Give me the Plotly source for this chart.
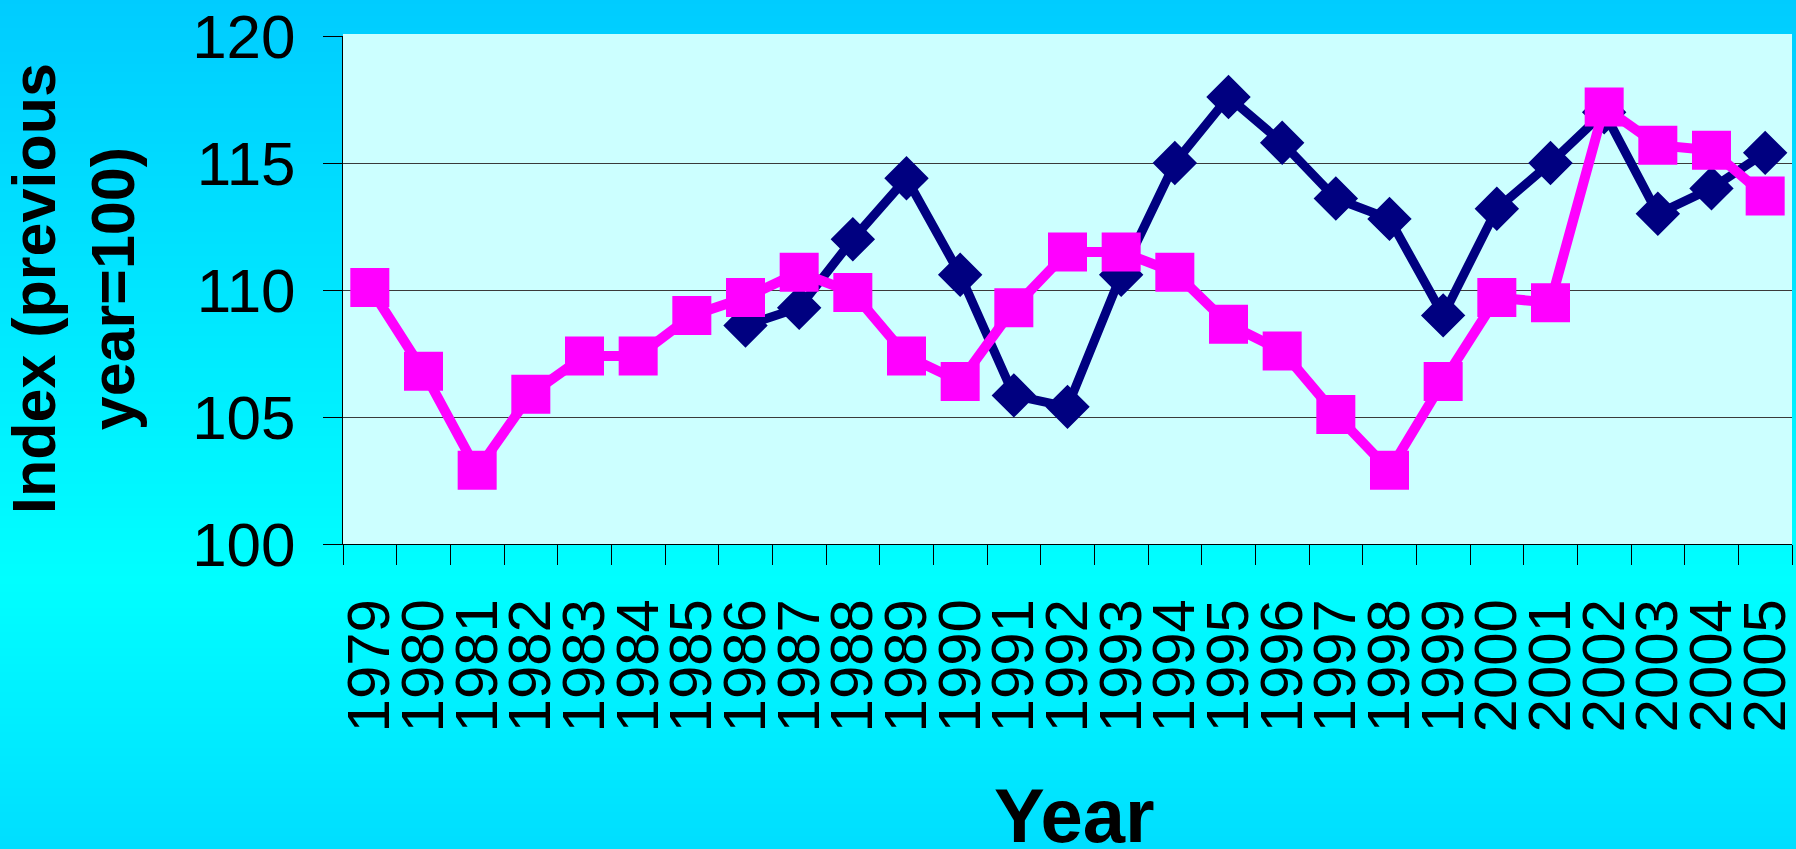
import plotly.graph_objects as go

# ---------------- data ----------------
years = [str(y) for y in range(1979, 2006)]

series_navy = [None, None, None, None, None, None, None,
               108.6, 109.3, 112.0, 114.4, 110.6, 105.85, 105.4, 110.6,
               115.0, 117.6, 115.8, 113.6, 112.8, 109.0, 113.2, 115.0,
               117.0, 113.0, 114.0, 115.4]

series_pink = [110.1, 106.8, 102.9, 105.9, 107.4, 107.4, 109.0, 109.7,
               110.7, 109.9, 107.4, 106.4, 109.3, 111.5, 111.5, 110.7,
               108.65, 107.6, 105.1, 102.9, 106.4, 109.7, 109.5, 117.2,
               115.7, 115.5, 113.7]

y_ticks = [100, 105, 110, 115, 120]

y_title = "Index (previous<br>year=100)"
x_title = "Year"

# ---------------- layout geometry ----------------
W, H = 1796, 849
L, R, T, B = 343, 4, 36, 305
PW = W - L - R
PH = H - T - B
FONT = "Liberation Sans, Arial, Helvetica, sans-serif"


def px_x(p):
    return (p - L) / PW


def px_y(q):
    return (H - B - q) / PH


# background gradient (pixel row -> green channel)
grad_stops = [(0, 204), (580, 255), (849, 222)]


def green(y):
    for (y0, g0), (y1, g1) in zip(grad_stops[:-1], grad_stops[1:]):
        if y0 <= y <= y1:
            return round(g0 + (g1 - g0) * (y - y0) / (y1 - y0))
    return grad_stops[-1][1]


shapes = []
step = 4
for r0 in range(0, H, step):
    r1 = min(r0 + step + 1, H + 2)
    g = green(r0 + step / 2)
    shapes.append(dict(type="rect", xref="paper", yref="paper",
                       x0=px_x(-5), x1=px_x(W + 5),
                       y0=px_y(r1), y1=px_y(r0),
                       fillcolor=f"rgb(0,{g},255)",
                       line=dict(width=0), layer="below"))
# plot area
shapes.append(dict(type="rect", xref="paper", yref="paper",
                   x0=0, x1=1, y0=0, y1=1.004,
                   fillcolor="#CCFFFF", line=dict(width=0), layer="below"))

fig = go.Figure()

fig.add_trace(go.Scatter(
    x=years, y=series_navy, mode="lines+markers", name="Series 1",
    line=dict(color="#000080", width=9),
    marker=dict(symbol="diamond", size=32, color="#000080",
                line=dict(color="#000080", width=2)),
    connectgaps=False,
))
fig.add_trace(go.Scatter(
    x=years, y=series_pink, mode="lines+markers", name="Series 2",
    line=dict(color="#FF00FF", width=10),
    marker=dict(symbol="square", size=37, color="#FF00FF",
                line=dict(color="#FF00FF", width=2)),
))

fig.update_layout(
    width=W, height=H,
    margin=dict(l=L, r=R, t=T, b=B, pad=0),
    paper_bgcolor="rgb(0,230,255)",
    plot_bgcolor="#CCFFFF",
    showlegend=False,
    shapes=shapes,
    font=dict(family=FONT, color="black"),
    xaxis=dict(
        type="category", categoryorder="array", categoryarray=years,
        range=[-0.5, len(years) - 0.5], tickmode="linear", tick0=0, dtick=1,
        tickson="boundaries", ticks="outside", ticklen=20, tickwidth=1,
        tickcolor="black", showline=True, linecolor="black", linewidth=1,
        showgrid=False, zeroline=False, tickangle=-90,
        tickfont=dict(family=FONT, size=60, color="black"),
        automargin=False, ticklabelstandoff=30,
    ),
    yaxis=dict(
        range=[100, 120], tickvals=y_ticks, ticks="outside", ticklen=19,
        tickwidth=1, tickcolor="black", showline=True, linecolor="black",
        linewidth=1, showgrid=True, gridcolor="#3a3a3a", gridwidth=1.2,
        zeroline=False, tickfont=dict(family=FONT, size=62, color="black"),
        automargin=False, ticklabelstandoff=15,
    ),
    annotations=[
        dict(text=f"<b>{y_title}</b>", xref="paper", yref="paper",
             x=px_x(73), y=px_y(289), xanchor="center", yanchor="middle",
             textangle=-90, showarrow=False, align="center",
             font=dict(family=FONT, size=61, color="black")),
        dict(text=f"<b>{x_title}</b>", xref="paper", yref="paper",
             x=px_x(1074), y=px_y(815), xanchor="center", yanchor="middle",
             showarrow=False,
             font=dict(family=FONT, size=76, color="black")),
    ],
)

fig.write_html("out.html")
